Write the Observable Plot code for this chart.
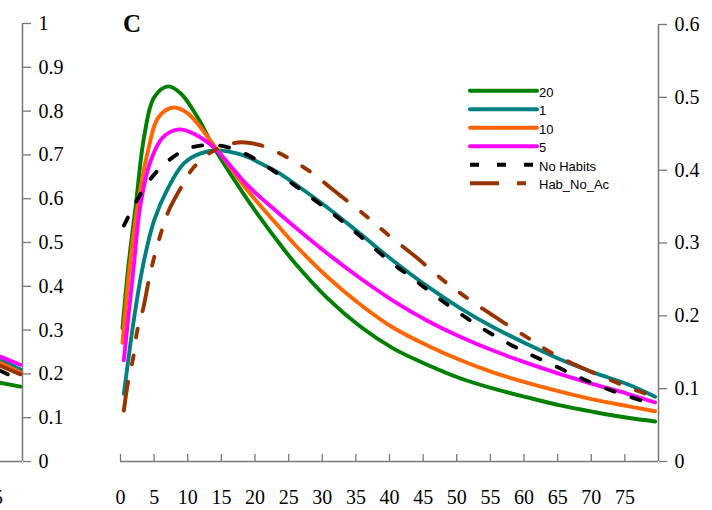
<!DOCTYPE html>
<html><head><meta charset="utf-8">
<script src="https://cdn.jsdelivr.net/npm/d3@7"></script>
<script src="https://cdn.jsdelivr.net/npm/@observablehq/plot@0.6"></script>
<style>
html,body{margin:0;padding:0;background:#fff;}
#wrap{position:relative;width:712px;height:510px;overflow:hidden;background:#fff;}
#wrap > svg{position:absolute;top:0;}
svg.serifPlot, svg.serifPlot g, svg.serifPlot text{font-family:"Liberation Serif",serif !important;}
svg.serifPlot text{font-size:20px !important;}
</style></head>
<body><div id="wrap"></div>
<script>
// ---------- data ----------
const xTicks = [0,5,10,15,20,25,30,35,40,45,50,55,60,65,70,75];
const rightTicks = [0,0.1,0.2,0.3,0.4,0.5,0.6];
const leftTicks = [0,0.1,0.2,0.3,0.4,0.5,0.6,0.7,0.8,0.9,1];
const panelLabel = "C";
const seriesNames = ["20","1","10","5","No Habits","Hab_No_Ac"];

const s20 = [[0.3,0.183],[1.1,0.262],[2.3,0.354],[3.5,0.445],[5.0,0.500],[7.1,0.515],[9.0,0.505],[11.5,0.472],[13.9,0.431],[18.4,0.366],[20.9,0.333],[23.4,0.302],[25.8,0.274],[30.8,0.224],[35.7,0.185],[40.6,0.155],[45.1,0.135],[50.6,0.114],[55.5,0.100],[60.5,0.088],[65.4,0.077],[70.4,0.068],[75.4,0.060],[79.5,0.055]];
const s1 = [[0.5,0.093],[1.6,0.170],[2.6,0.231],[3.5,0.276],[5.0,0.331],[7.1,0.376],[9.4,0.409],[11.9,0.423],[14.5,0.427],[18.4,0.420],[20.9,0.409],[23.4,0.397],[25.8,0.382],[30.7,0.349],[35.6,0.313],[40.5,0.276],[45.7,0.240],[50.6,0.210],[55.5,0.184],[60.5,0.161],[65.4,0.140],[70.4,0.122],[75.4,0.106],[79.5,0.089]];
const s10 = [[0.3,0.163],[1.3,0.262],[2.6,0.354],[4.1,0.427],[5.6,0.472],[7.8,0.486],[10.0,0.478],[13.9,0.434],[18.4,0.378],[20.9,0.350],[23.4,0.324],[25.8,0.299],[30.7,0.254],[35.6,0.216],[40.5,0.184],[45.7,0.159],[50.6,0.139],[55.5,0.122],[60.5,0.108],[65.4,0.096],[70.4,0.085],[75.4,0.076],[79.5,0.069]];
const s5 = [[0.5,0.139],[1.9,0.262],[3.0,0.354],[4.5,0.413],[6.3,0.445],[8.7,0.456],[10.9,0.450],[13.9,0.431],[18.4,0.384],[20.9,0.362],[23.4,0.342],[25.8,0.323],[30.7,0.286],[35.6,0.252],[40.5,0.221],[45.7,0.193],[50.6,0.171],[55.5,0.152],[60.5,0.135],[65.4,0.120],[70.4,0.106],[75.4,0.093],[79.5,0.081]];
const sNoHabits = [[0.5,0.324],[2.3,0.356],[4.3,0.386],[7.1,0.413],[10.5,0.431],[14.5,0.434],[18.2,0.424],[21.6,0.406],[25.0,0.385],[28.0,0.365],[31.3,0.342],[34.3,0.320],[37.2,0.297],[40.3,0.273],[43.5,0.251],[46.6,0.229],[49.9,0.207],[53.1,0.187],[56.5,0.168],[60.0,0.151],[63.5,0.136],[67.2,0.120],[70.6,0.106],[74.4,0.093],[78.4,0.081],[79.5,0.078]];
const sHabNoAc = [[0.5,0.070],[1.1,0.108],[1.9,0.143],[2.5,0.180],[3.4,0.211],[4.1,0.244],[4.8,0.273],[6.0,0.313],[7.2,0.345],[9.0,0.376],[10.9,0.404],[13.9,0.427],[17.5,0.438],[20.9,0.434],[24.3,0.420],[27.9,0.400],[32.3,0.368],[36.8,0.335],[39.7,0.312],[43.9,0.281],[48.1,0.248],[51.3,0.226],[56.1,0.196],[60.7,0.169],[64.3,0.148],[69.5,0.125],[74.4,0.106],[78.4,0.092],[79.5,0.089]];

// tails of the neighbouring panel B (left scale 0-1)
const b20 = [[76.0,0.180],[79.1,0.171]];
const b1 = [[76.0,0.233],[79.1,0.210]];
const b10 = [[76.0,0.226],[79.1,0.203]];
const b5 = [[76.0,0.240],[79.1,0.221]];
const bNoHabits = [[76.0,0.208],[79.1,0.185]];
const bHabNoAc = [[76.0,0.219],[79.1,0.199]];

// ---------- styles ----------
const colors = ["#008000","#008080","#ff6600","#ff00ff","#000000","#993300"];
const dashes = [null,null,null,null,"9,18","29,18,9,18,9,18"];
const axisGrey = "#777";
const serif = "'Liberation Serif', serif";

const cSeries = [s20,s1,s10,s5,sNoHabits,sHabNoAc];
const bSeries = [b20,b1,b10,b5,bNoHabits,bHabNoAc];

function lineMarks(series) {
  return series.map((data,i) => Plot.line(data, {
    x: d => d[0], y: d => d[1], stroke: colors[i], strokeWidth: 3.9,
    strokeDasharray: dashes[i] || undefined, curve: "catmull-rom"
  }));
}
const fmt = d => String(d);

function serifize(svg) {
  svg.classList.add("serifPlot");
  svg.setAttribute("font-family", serif);
  svg.setAttribute("font-size", 20);
  svg.querySelectorAll("g, text").forEach(el => {
    if (el.hasAttribute("font-family")) el.setAttribute("font-family", serif);
    el.style.fontFamily = serif;
  });
  svg.querySelectorAll("text").forEach(el => { el.style.fontSize = "20px"; });
}

// ---------- panel B fragment ----------
const bPlot = Plot.plot({
  width: 614, height: 510,
  marginLeft: 20, marginRight: 60, marginTop: 23, marginBottom: 49,
  style: {color: "#000", background: "transparent", fontFamily: serif, fontSize: "20px"},
  x: {domain: [0, 79.4]},
  y: {domain: [0, 1]},
  marks: [
    Plot.ruleY([0], {stroke: axisGrey, strokeWidth: 1.5}),
    Plot.ruleX([79.4], {stroke: axisGrey, strokeWidth: 1.5}),
    Plot.ruleX(xTicks, {stroke: axisGrey, strokeWidth: 1.3, insetTop: 431}),
    Plot.axisX({ticks: xTicks.slice(-1), tickSize: 0, tickPadding: 28, tickFormat: fmt, fill: "#000"}),
    Plot.axisY({anchor: "right", ticks: leftTicks, tickSize: 8, tickPadding: 8, tickFormat: fmt, stroke: axisGrey, strokeWidth: 1.3, fill: "#000"}),
    ...lineMarks(bSeries)
  ]
});
serifize(bPlot);
bPlot.style.left = (22 - 554) + "px";

// ---------- panel C ----------
const cPlot = Plot.plot({
  width: 712, height: 510,
  marginLeft: 120, marginRight: 54, marginTop: 24, marginBottom: 49,
  style: {color: "#000", background: "transparent", fontFamily: serif, fontSize: "20px"},
  x: {domain: [0, 80]},
  y: {domain: [0, 0.6]},
  marks: [
    Plot.ruleY([0], {stroke: axisGrey, strokeWidth: 1.5}),
    Plot.ruleX([80], {stroke: axisGrey, strokeWidth: 1.5}),
    Plot.ruleX(xTicks, {stroke: axisGrey, strokeWidth: 1.3, insetTop: 430}),
    Plot.axisX({ticks: xTicks, tickSize: 0, tickPadding: 28, tickFormat: fmt, fill: "#000"}),
    Plot.axisY({anchor: "right", ticks: rightTicks, tickSize: 8, tickPadding: 8, tickFormat: fmt, stroke: axisGrey, strokeWidth: 1.3, fill: "#000"}),
    ...lineMarks(cSeries)
  ]
});
serifize(cPlot);
cPlot.style.left = "0px";

const wrap = document.getElementById("wrap");
wrap.appendChild(bPlot);
wrap.appendChild(cPlot);

// ---------- panel label and legend overlay ----------
const ns = "http://www.w3.org/2000/svg";
const ov = document.createElementNS(ns, "svg");
ov.setAttribute("width", 712); ov.setAttribute("height", 510);
ov.style.position = "absolute"; ov.style.left = "0px"; ov.style.top = "0px";
const lab = document.createElementNS(ns, "text");
lab.setAttribute("x", 123); lab.setAttribute("y", 32);
lab.setAttribute("font-family", serif);
lab.setAttribute("font-weight", "bold");
lab.setAttribute("font-size", 25);
lab.textContent = panelLabel;
ov.appendChild(lab);
seriesNames.forEach((name, i) => {
  const y = 90.7 + i * 18.5;
  const ln = document.createElementNS(ns, "line");
  ln.setAttribute("x1", 470); ln.setAttribute("x2", 537);
  ln.setAttribute("y1", y); ln.setAttribute("y2", y);
  ln.setAttribute("stroke", colors[i]); ln.setAttribute("stroke-width", 4);
  if (dashes[i]) ln.setAttribute("stroke-dasharray", dashes[i]);
  else ln.setAttribute("stroke-linecap", "round");
  ov.appendChild(ln);
  const t = document.createElementNS(ns, "text");
  t.setAttribute("x", 539); t.setAttribute("y", y + 5.8);
  t.setAttribute("font-family", "'Liberation Sans', Arial, sans-serif");
  t.setAttribute("font-size", 13);
  t.textContent = name;
  ov.appendChild(t);
});
wrap.appendChild(ov);
</script>
</body></html>
